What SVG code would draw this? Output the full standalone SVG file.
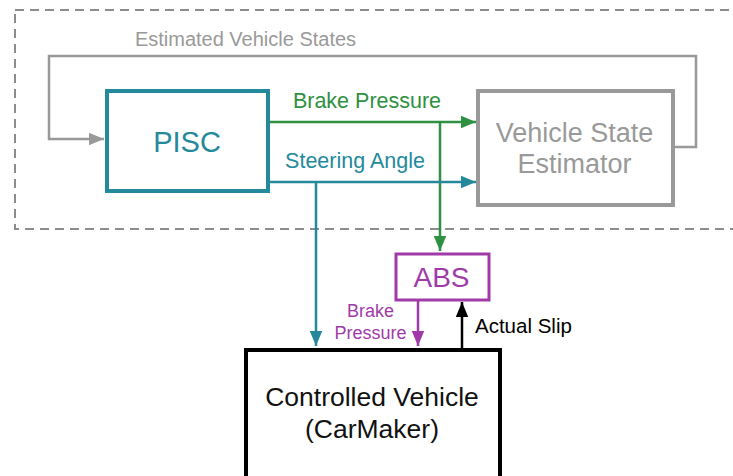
<svg xmlns="http://www.w3.org/2000/svg" width="733" height="476" viewBox="0 0 733 476">
<style>
text{font-family:"Liberation Sans",Arial,sans-serif}
.teal{fill:#24899b}
.green{fill:#2e9040}
.gray{fill:#999999}
.purple{fill:#a03aa8}
</style>
<defs>
<marker id="ag" viewBox="0 0 12 10" refX="12" refY="5" markerWidth="6" markerHeight="5" orient="auto" markerUnits="strokeWidth"><path d="M0,0 L12,5 L0,10 z" fill="#999999"/></marker>
<marker id="agr" viewBox="0 0 12 10" refX="12" refY="5" markerWidth="6" markerHeight="5" orient="auto" markerUnits="strokeWidth"><path d="M0,0 L12,5 L0,10 z" fill="#2e9040"/></marker>
<marker id="at" viewBox="0 0 12 10" refX="12" refY="5" markerWidth="6" markerHeight="5" orient="auto" markerUnits="strokeWidth"><path d="M0,0 L12,5 L0,10 z" fill="#24899b"/></marker>
<marker id="ap" viewBox="0 0 12 10" refX="12" refY="5" markerWidth="6" markerHeight="5" orient="auto" markerUnits="strokeWidth"><path d="M0,0 L12,5 L0,10 z" fill="#a03aa8"/></marker>
<marker id="ab" viewBox="0 0 12 10" refX="12" refY="5" markerWidth="6" markerHeight="5" orient="auto" markerUnits="strokeWidth"><path d="M0,0 L12,5 L0,10 z" fill="#000"/></marker>
</defs>
<rect x="15" y="10" width="740" height="219" fill="none" stroke="#8c8c8c" stroke-width="2" stroke-dasharray="9,6"/>
<g id="connectors" fill="none" stroke-width="2.5">
<polyline points="675,147 696,147 696,56 49,56 49,139 104,139" stroke="#999999" marker-end="url(#ag)"/>
<line x1="268" y1="122" x2="476" y2="122" stroke="#2e9040" marker-end="url(#agr)"/>
<line x1="440" y1="122" x2="440" y2="251" stroke="#2e9040" marker-end="url(#agr)"/>
<line x1="268" y1="182" x2="476" y2="182" stroke="#24899b" marker-end="url(#at)"/>
<line x1="316" y1="182" x2="316" y2="346" stroke="#24899b" marker-end="url(#at)"/>
<line x1="418" y1="300" x2="418" y2="346" stroke="#a03aa8" marker-end="url(#ap)"/>
<line x1="462" y1="348" x2="462" y2="302" stroke="#000" marker-end="url(#ab)"/>
<text x="245.5" y="46" class="gray" font-size="20" text-anchor="middle" stroke="none">Estimated Vehicle States</text>
<text x="367" y="108" class="green" font-size="21.5" text-anchor="middle" stroke="none">Brake Pressure</text>
<text x="355" y="168" class="teal" font-size="21.5" text-anchor="middle" stroke="none">Steering Angle</text>
<text x="370.5" y="317" class="purple" font-size="18" text-anchor="middle" stroke="none">Brake</text>
<text x="370.5" y="339" class="purple" font-size="18" text-anchor="middle" stroke="none">Pressure</text>
<text x="475" y="333" fill="#000" font-size="20.5" stroke="none">Actual Slip</text>
</g>
<g id="pisc">
<rect x="107" y="91" width="161" height="100" fill="#fff" stroke="#24899b" stroke-width="4"/>
<text x="187" y="152" class="teal" font-size="29" text-anchor="middle">PISC</text>
</g>
<g id="vse">
<rect x="478" y="91" width="195" height="114" fill="#fff" stroke="#999999" stroke-width="4"/>
<text x="574.5" y="142" class="gray" font-size="27" text-anchor="middle">Vehicle State</text>
<text x="574.5" y="173" class="gray" font-size="27" text-anchor="middle">Estimator</text>
</g>
<g id="abs">
<rect x="396" y="254" width="93" height="46" fill="#fff" stroke="#a03aa8" stroke-width="3"/>
<text x="441.5" y="287" class="purple" font-size="28" text-anchor="middle">ABS</text>
</g>
<g id="vehicle">
<rect x="246" y="350" width="254" height="140" fill="#fff" stroke="#000" stroke-width="4"/>
<text x="372" y="406" fill="#111" font-size="26.5" text-anchor="middle">Controlled Vehicle</text>
<text x="372" y="438" fill="#111" font-size="26.5" text-anchor="middle">(CarMaker)</text>
</g>
</svg>
